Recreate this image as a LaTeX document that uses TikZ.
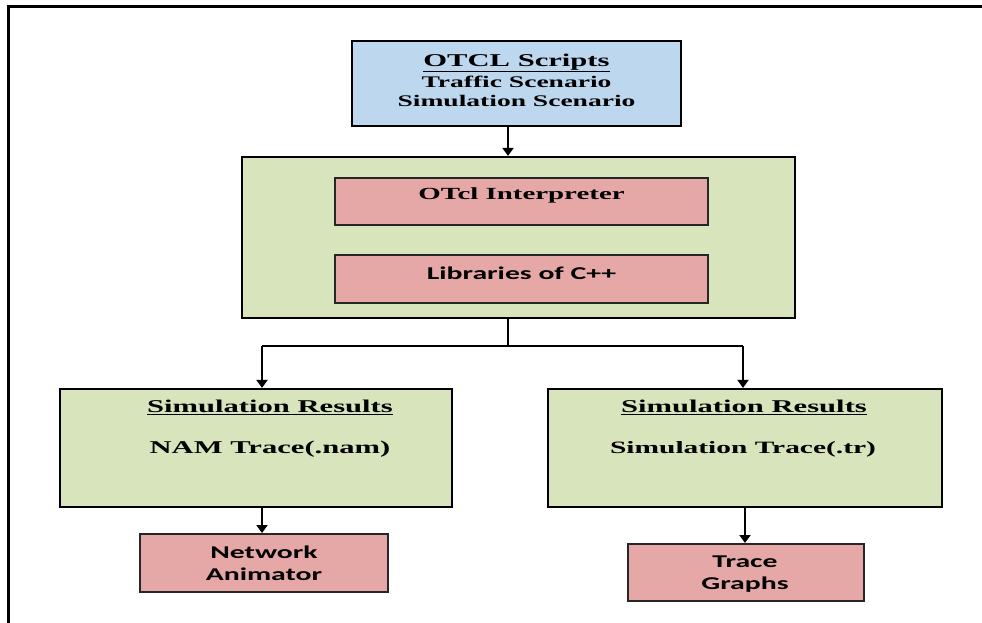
\documentclass[tikz,border=0pt]{standalone}
\usepackage{fontspec}
\setmainfont{Liberation Serif}[FakeStretch=1.7]
\newfontfamily\boxsans{Carlito}[FakeStretch=1.65]
\usetikzlibrary{arrows.meta,calc}

\definecolor{scriptblue}{RGB}{189,215,238}
\definecolor{stagegreen}{RGB}{215,228,188}
\definecolor{toolpink}{RGB}{229,168,166}

\tikzset{
  frameline/.style={line width=3pt, black},
  bluebox/.style={draw=black, line width=2.2pt, fill=scriptblue, inner sep=0pt},
  greenbox/.style={draw=black, line width=2.2pt, fill=stagegreen, inner sep=0pt},
  pinkbox/.style={draw=black!85, line width=2pt, fill=toolpink, inner sep=0pt},
  serifbold/.style={font=\fontsize{18}{19.5}\selectfont\bfseries, align=center, inner sep=0pt},
  sansbold/.style={font=\fontsize{18}{22}\selectfont\boxsans\bfseries, align=center, inner sep=0pt},
  arr/.style={line width=2pt, -{Triangle[width=11pt,length=8pt]}},
  link/.style={line width=2pt}
}

\begin{document}
\begin{tikzpicture}[x=1pt,y=-1pt]
\useasboundingbox (0,0) rectangle (982,623);

% open outer frame (top and left edges)
\draw[frameline] (8.5,623) -- (8.5,6.5) -- (982,6.5);

% OTCL scripts
\node[bluebox, minimum width=329pt, minimum height=85pt] (scripts) at (516.5,83.5) {};
\node[serifbold] (scriptstxt) at (516.5,80.5) {\underline{OTCL Scripts}\\[1.5pt]
  {\fontsize{16.2}{19.5}\selectfont Traffic Scenario}\\
  {\fontsize{16.2}{19.5}\selectfont Simulation Scenario}};

% simulator core
\node[greenbox, minimum width=553pt, minimum height=161pt] (core) at (518.5,237.5) {};
\node[pinkbox, minimum width=373pt, minimum height=47pt] (interp) at (521.5,201.5) {};
\node[serifbold, font=\fontsize{17}{19.5}\selectfont\bfseries] (interptxt) at (521.5,195) {OTcl Interpreter};
\node[pinkbox, minimum width=373pt, minimum height=48pt] (libs) at (521.5,279) {};
\node[sansbold] (libstxt) at (521.5,273) {Libraries of C++};

% simulation results
\node[greenbox, minimum width=392pt, minimum height=118pt] (resL) at (256,448) {};
\node[serifbold] (resLtitle) at (270,407) {\underline{Simulation Results}};
\node[serifbold] (resLtxt) at (270,449) {NAM Trace(.nam)};
\node[greenbox, minimum width=394pt, minimum height=118pt] (resR) at (745,448) {};
\node[serifbold] (resRtitle) at (744,407) {\underline{Simulation Results}};
\node[serifbold, font=\fontsize{17.3}{19.5}\selectfont\bfseries] (resRtxt) at (743,449) {Simulation Trace(.tr)};

% tools
\node[pinkbox, minimum width=248pt, minimum height=58pt] (nam) at (264,563) {};
\node[sansbold] (namtxt) at (264,563) {Network\\Animator};
\node[pinkbox, minimum width=236pt, minimum height=57pt] (graphs) at (746,572.5) {};
\node[sansbold] (graphstxt) at (745,574) {Trace\\Graphs};

% connectors
\draw[arr] ([xshift=-8.5pt]scripts.south) -- ([xshift=-8.5pt]scripts.south |- core.north);
\coordinate (split) at ([xshift=-10.5pt]core.south |- 0,346);
\draw[link] ([xshift=-10.5pt]core.south) -- (split);
\draw[link] ([xshift=6pt]resL.north |- split) -- ([xshift=-2pt]resR.north |- split);
\draw[arr] ([xshift=6pt]resL.north |- split) -- ([xshift=6pt]resL.north);
\draw[arr] ([xshift=-2pt]resR.north |- split) -- ([xshift=-2pt]resR.north);
\draw[arr] ([xshift=6pt]resL.south) -- ([xshift=6pt]resL.south |- nam.north);
\draw[arr] (resR.south) -- (resR.south |- graphs.north);
\end{tikzpicture}
\end{document}
